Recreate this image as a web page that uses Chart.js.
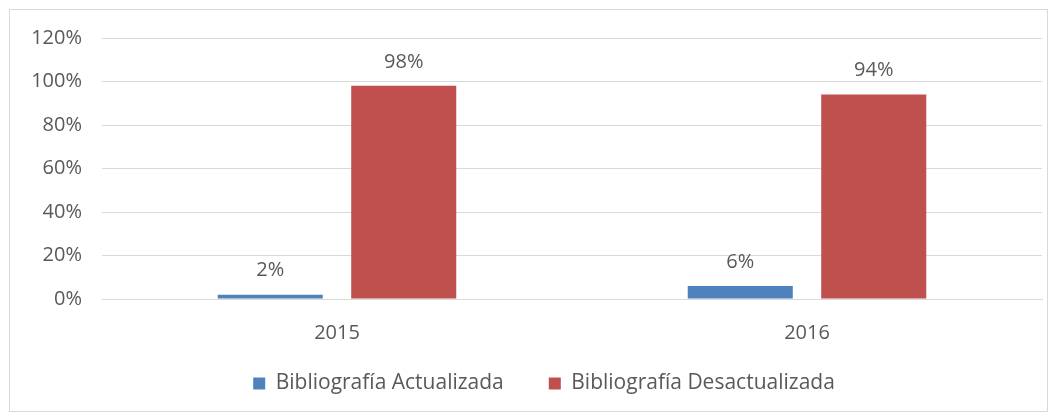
<!DOCTYPE html>
<html>
<head>
<meta charset="utf-8">
<script src="https://cdn.jsdelivr.net/npm/chart.js@4"></script>
<style>
  body { margin: 0; background: #fff; }
  .frame { position: relative; width: 1056px; height: 416px; }
  .frame::after {
    content: ""; position: absolute; left: 9px; top: 9px; right: 8px; bottom: 4px;
    border: 1px solid #d9d9d9; pointer-events: none;
  }
</style>
</head>
<body>
<div class="frame"><canvas id="chart" width="1056" height="416"></canvas></div>
<script>
const years = ["2015", "2016"];
const actualizada = [2, 6];
const desactualizada = [98, 94];
const seriesNames = ["Bibliografía Actualizada", "Bibliografía Desactualizada"];
const yTicks = [0, 20, 40, 60, 80, 100, 120];

const textColor = "#595959";
const fontFamily = "'Open Sans', 'Noto Sans', sans-serif";
const fontSize = 20;
const legendSize = 21;

// draws the value labels above each bar
const barLabels = {
  id: "barLabels",
  afterDatasetsDraw(chart) {
    const ctx = chart.ctx;
    ctx.save();
    ctx.fillStyle = textColor;
    ctx.font = fontSize + "px " + fontFamily;
    ctx.textAlign = "center";
    ctx.textBaseline = "middle";
    chart.data.datasets.forEach((ds, i) => {
      chart.getDatasetMeta(i).data.forEach((bar, j) => {
        ctx.fillText(ds.data[j] + "%", bar.x, bar.y - 24);
      });
    });
    ctx.restore();
  },
};

// excel puts the legend a bit right of the middle
const legendShift = {
  id: "legendShift",
  afterLayout(chart) {
    if (chart.legend) {
      chart.legend.left += 18;
      chart.legend.right += 18;
    }
  },
};

new Chart(document.getElementById("chart"), {
  type: "bar",
  data: {
    labels: years,
    datasets: [
      { label: seriesNames[0], data: actualizada, backgroundColor: "#4f81bd" },
      { label: seriesNames[1], data: desactualizada, backgroundColor: "#c0504d" },
    ],
  },
  options: {
    responsive: false,
    animation: false,
    categoryPercentage: 0.568,
    barPercentage: 0.787,
    layout: { padding: { left: 10, right: 14, top: 38, bottom: 12 } },
    scales: {
      x: {
        grid: { display: false, drawTicks: false },
        border: { color: "#d9d9d9" },
        ticks: { color: textColor, font: { size: fontSize, family: fontFamily }, padding: 22 },
        afterFit(scale) { scale.height = 50; },
      },
      y: {
        min: 0,
        max: 120,
        afterBuildTicks(scale) { scale.ticks = yTicks.map((v) => ({ value: v })); },
        grid: { color: "#d9d9d9", drawTicks: false },
        border: { display: false },
        ticks: {
          color: textColor,
          font: { size: fontSize, family: fontFamily },
          padding: 20,
          callback: (v) => v + "%",
        },
        afterFit(scale) { scale.width = 92; },
      },
    },
    plugins: {
      legend: {
        position: "bottom",
        labels: {
          color: textColor,
          font: { size: legendSize, family: fontFamily },
          boxWidth: 12,
          boxHeight: 12,
          padding: 24,
          generateLabels(chart) {
            const items = Chart.defaults.plugins.legend.labels.generateLabels(chart);
            items[0].text += "\u2003";
            return items;
          },
        },
      },
      tooltip: { enabled: false },
    },
  },
  plugins: [barLabels, legendShift],
});
</script>
</body>
</html>
